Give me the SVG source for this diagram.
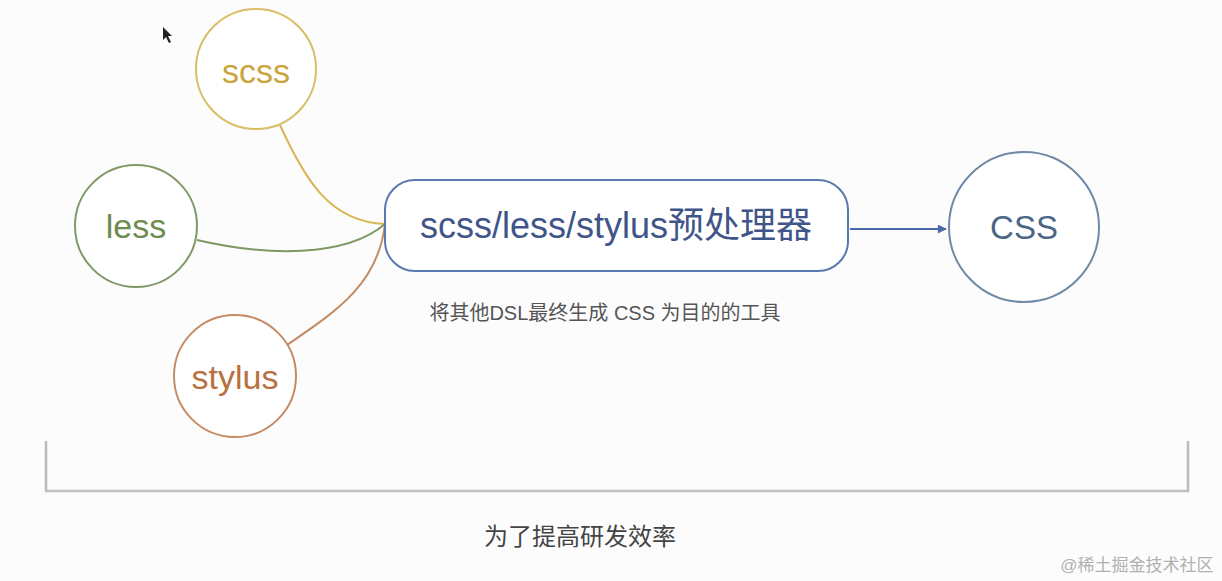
<svg xmlns="http://www.w3.org/2000/svg" width="1222" height="581" viewBox="0 0 1222 581">
<style>
.lbl{font-family:"Liberation Sans","Noto Sans CJK SC",sans-serif;text-anchor:middle}
.node{fill:#fff;stroke-width:2}
.edge{fill:none;stroke-width:2}
</style>
<defs>
<marker id="arr" viewBox="0 0 10 10" refX="9" refY="5" markerWidth="10" markerHeight="9" markerUnits="userSpaceOnUse" orient="auto"><path d="M0,0 L10,5 L0,10 z" fill="#4a6aa8"/></marker>
</defs>
<rect width="1222" height="581" fill="#fdfcfd"/>
<path d="M163,27 L163,40 L166,37 L169,43 L171,42 L168,36 L172,36 z" fill="#222"/>
<g id="connectors">
<path class="edge" d="M280,125 C305,180 330,222 385,224" stroke="#d8b653"/>
<path class="edge" d="M197,240 C265,256 345,258 385,224" stroke="#7d9863"/>
<path class="edge" d="M287,345 C335,312 378,285 385,224" stroke="#c48a62"/>
<path class="edge" d="M850,229 L946,229" stroke="#4a6aa8" marker-end="url(#arr)"/>
</g>
<g id="scss">
<circle class="node" cx="256" cy="69" r="60" stroke="#d9be68"/>
<text class="lbl" x="256" y="83" font-size="34" fill="#c9a53c">scss</text>
</g>
<g id="less">
<circle class="node" cx="136" cy="226" r="61" stroke="#7f9a66"/>
<text class="lbl" x="136" y="238" font-size="34" fill="#6e8c4f">less</text>
</g>
<g id="stylus">
<circle class="node" cx="235" cy="376" r="61" stroke="#c58b64"/>
<text class="lbl" x="235" y="389" font-size="34" fill="#b8703f">stylus</text>
</g>
<g id="preprocessor">
<rect class="node" x="385" y="180" width="463" height="91" rx="30" stroke="#5a79b0"/>
<text class="lbl" x="616" y="238" font-size="36" fill="#3f5589">scss/less/stylus预处理器</text>
</g>
<g id="css">
<circle class="node" cx="1024" cy="227" r="75" stroke="#6f8aa6"/>
<text class="lbl" x="1024" y="239" font-size="33" fill="#4b6585">CSS</text>
</g>
<text class="lbl" x="605" y="320" font-size="20" fill="#555">将其他DSL最终生成 CSS 为目的的工具</text>
<g id="bracket">
<path d="M46,441 L46,491 L1188,491 L1188,441" fill="none" stroke="#d8d8d8" stroke-width="3"/>
<path d="M46,441 L46,491 L1188,491 L1188,441" fill="none" stroke="#aaa" stroke-width="1.2"/>
</g>
<text class="lbl" x="580" y="545" font-size="24" fill="#444">为了提高研发效率</text>
<text class="lbl" x="1137" y="571" font-size="17" fill="#b0b0b0">@稀土掘金技术社区</text>
</svg>
